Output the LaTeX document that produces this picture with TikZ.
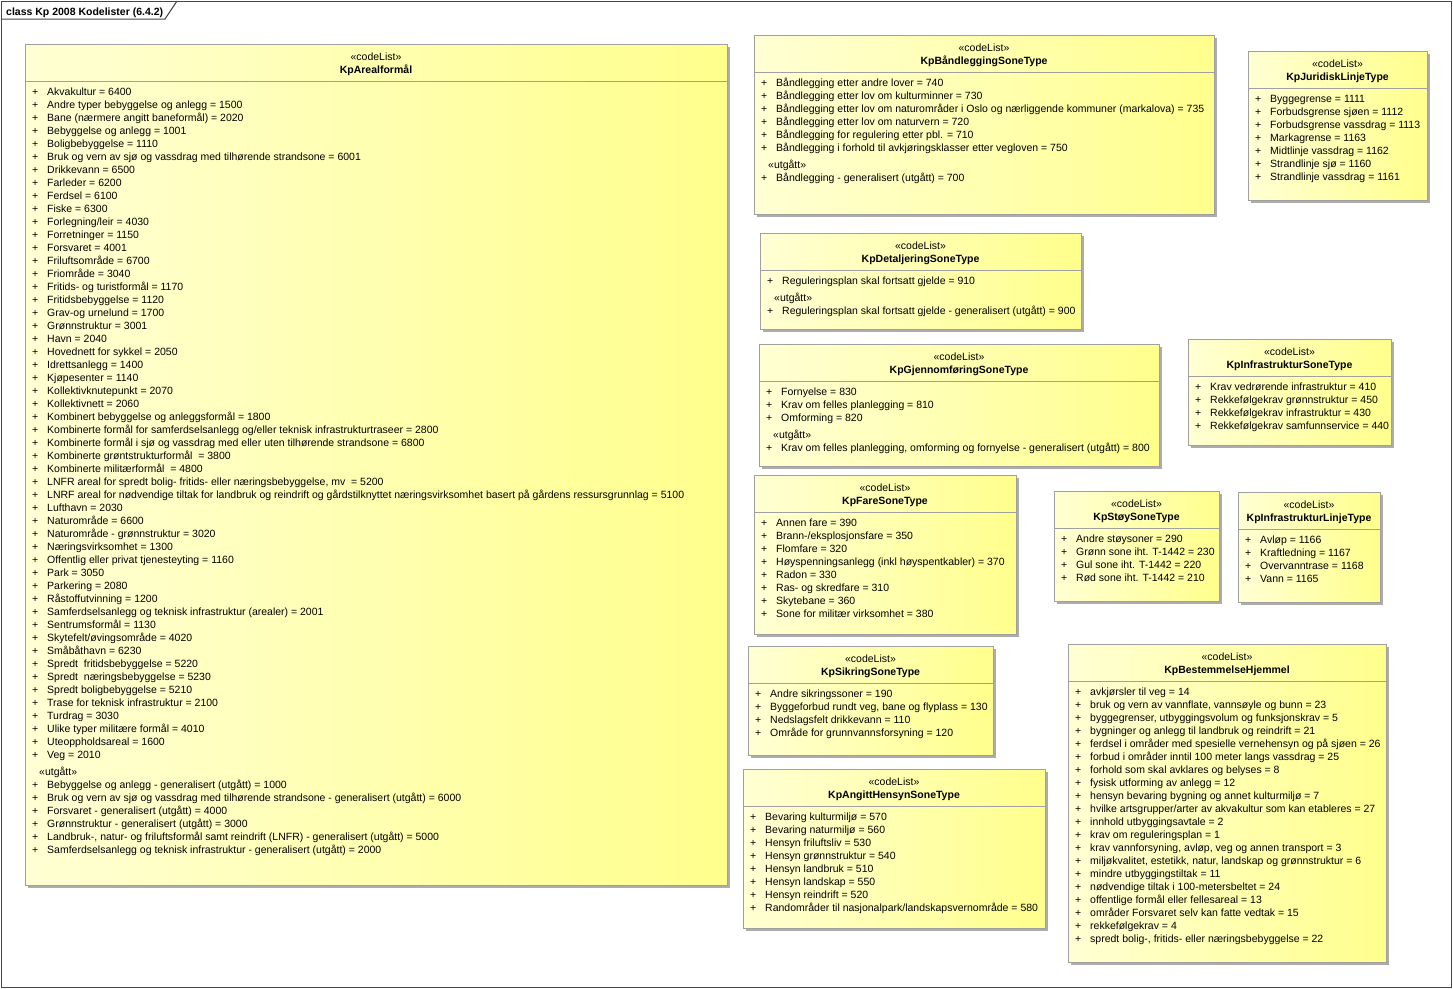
\documentclass[tikz,border=0pt]{standalone}
\usepackage{fontspec}
\setmainfont{Liberation Sans}
\definecolor{fillL}{RGB}{255,255,212}
\definecolor{fillR}{RGB}{255,255,140}
\definecolor{boxline}{RGB}{160,160,160}
\definecolor{shadowc}{RGB}{172,172,172}
\definecolor{framec}{RGB}{70,70,70}
\tikzset{
  boxfill/.style={left color=fillL, right color=fillR},
  boxborder/.style={draw=boxline, line width=1pt},
  boxshadow/.style={fill=shadowc},
  stereo/.style={anchor=base, inner sep=0pt, font=\fontsize{10.5}{13}\selectfont},
  clsname/.style={anchor=base, inner sep=0pt, font=\fontsize{10.5}{13}\selectfont\bfseries},
  attrs/.style={anchor=base west, inner sep=0pt, font=\fontsize{10.5}{13}\selectfont},
  frameline/.style={draw=framec, line width=1pt},
}
\newcommand\umlbox[6]{%
  \fill[boxshadow] (#2+3,#3+3) rectangle (#4+3,#5+3);
  \shade[boxfill] (#2,#3) rectangle (#4,#5);
  \draw[boxborder] (#2,#3) rectangle (#4,#5);
  \draw[boxborder] (#2,#3+37) -- (#4,#3+37);
  \node[stereo] (#1-st) at ({(#2+#4)/2},#3+16.5) {«codeList»};
  \node[clsname] (#1-nm) at ({(#2+#4)/2},#3+29.5) {#6};
}
\newcommand\umlattrs[4]{%
  \node[attrs] (#1-at) at (#2+7,#3+51.5) {\begin{tabular}[t]{@{}l@{}}#4\end{tabular}};
}
\newcommand\itm[1]{\makebox[15pt][l]{+}#1\\}
\newcommand\utg{\noalign{\vskip4pt}\hspace*{7pt}«utgått»\\}
\begin{document}
\begin{tikzpicture}[x=1pt,y=-1pt]
\useasboundingbox (0,0) rectangle (1453,988);
\fill[white] (0,0) rectangle (1453,988);
% frame
\draw[frameline] (1,1) rectangle (1451,987);
\draw[frameline] (1,19) -- (165,19) -- (177,1);
\node[anchor=base west, inner sep=0pt, font=\fontsize{10.5}{13}\selectfont\bfseries] (title) at (6,15) {class Kp 2008 Kodelister (6.4.2)};

% KpArealformål
\umlbox{A}{25}{44}{727}{885}{KpArealformål}
\umlattrs{A}{25}{44}{%
\itm{Akvakultur = 6400}
\itm{Andre typer bebyggelse og anlegg = 1500}
\itm{Bane (nærmere angitt baneformål) = 2020}
\itm{Bebyggelse og anlegg = 1001}
\itm{Boligbebyggelse = 1110}
\itm{Bruk og vern av sjø og vassdrag med tilhørende strandsone = 6001}
\itm{Drikkevann = 6500}
\itm{Farleder = 6200}
\itm{Ferdsel = 6100}
\itm{Fiske = 6300}
\itm{Forlegning/leir = 4030}
\itm{Forretninger = 1150}
\itm{Forsvaret = 4001}
\itm{Friluftsområde = 6700}
\itm{Friområde = 3040}
\itm{Fritids- og turistformål = 1170}
\itm{Fritidsbebyggelse = 1120}
\itm{Grav-og urnelund = 1700}
\itm{Grønnstruktur = 3001}
\itm{Havn = 2040}
\itm{Hovednett for sykkel = 2050}
\itm{Idrettsanlegg = 1400}
\itm{Kjøpesenter = 1140}
\itm{Kollektivknutepunkt = 2070}
\itm{Kollektivnett = 2060}
\itm{Kombinert bebyggelse og anleggsformål = 1800}
\itm{Kombinerte formål for samferdselsanlegg og/eller teknisk infrastrukturtraseer = 2800}
\itm{Kombinerte formål i sjø og vassdrag med eller uten tilhørende strandsone = 6800}
\itm{Kombinerte grøntstrukturformål\ \ = 3800}
\itm{Kombinerte militærformål\ \ = 4800}
\itm{LNFR areal for spredt bolig- fritids- eller næringsbebyggelse, mv\ \ = 5200}
\itm{LNRF areal for nødvendige tiltak for landbruk og reindrift og gårdstilknyttet næringsvirksomhet basert på gårdens ressursgrunnlag = 5100}
\itm{Lufthavn = 2030}
\itm{Naturområde = 6600}
\itm{Naturområde - grønnstruktur = 3020}
\itm{Næringsvirksomhet = 1300}
\itm{Offentlig eller privat tjenesteyting = 1160}
\itm{Park = 3050}
\itm{Parkering = 2080}
\itm{Råstoffutvinning = 1200}
\itm{Samferdselsanlegg og teknisk infrastruktur (arealer) = 2001}
\itm{Sentrumsformål = 1130}
\itm{Skytefelt/øvingsområde = 4020}
\itm{Småbåthavn = 6230}
\itm{Spredt\ \ fritidsbebyggelse = 5220}
\itm{Spredt\ \ næringsbebyggelse = 5230}
\itm{Spredt boligbebyggelse = 5210}
\itm{Trase for teknisk infrastruktur = 2100}
\itm{Turdrag = 3030}
\itm{Ulike typer militære formål = 4010}
\itm{Uteoppholdsareal = 1600}
\itm{Veg = 2010}
\utg
\itm{Bebyggelse og anlegg - generalisert (utgått) = 1000}
\itm{Bruk og vern av sjø og vassdrag med tilhørende strandsone - generalisert (utgått) = 6000}
\itm{Forsvaret - generalisert (utgått) = 4000}
\itm{Grønnstruktur - generalisert (utgått) = 3000}
\itm{Landbruk-, natur- og friluftsformål samt reindrift (LNFR) - generalisert (utgått) = 5000}
\itm{Samferdselsanlegg og teknisk infrastruktur - generalisert (utgått) = 2000}
}

% KpBåndleggingSoneType
\umlbox{B}{754}{35}{1214}{214}{KpBåndleggingSoneType}
\umlattrs{B}{754}{35}{%
\itm{Båndlegging etter andre lover = 740}
\itm{Båndlegging etter lov om kulturminner = 730}
\itm{Båndlegging etter lov om naturområder i Oslo og nærliggende kommuner (markalova) = 735}
\itm{Båndlegging etter lov om naturvern = 720}
\itm{Båndlegging for regulering etter pbl. = 710}
\itm{Båndlegging i forhold til avkjøringsklasser etter vegloven = 750}
\utg
\itm{Båndlegging - generalisert (utgått) = 700}
}

% KpJuridiskLinjeType
\umlbox{J}{1248}{51}{1427}{200}{KpJuridiskLinjeType}
\umlattrs{J}{1248}{51}{%
\itm{Byggegrense = 1111}
\itm{Forbudsgrense sjøen = 1112}
\itm{Forbudsgrense vassdrag = 1113}
\itm{Markagrense = 1163}
\itm{Midtlinje vassdrag = 1162}
\itm{Strandlinje sjø = 1160}
\itm{Strandlinje vassdrag = 1161}
}

% KpDetaljeringSoneType
\umlbox{D}{760}{233}{1081}{329}{KpDetaljeringSoneType}
\umlattrs{D}{760}{233}{%
\itm{Reguleringsplan skal fortsatt gjelde = 910}
\utg
\itm{Reguleringsplan skal fortsatt gjelde - generalisert (utgått) = 900}
}

% KpGjennomføringSoneType
\umlbox{G}{759}{344}{1159}{466}{KpGjennomføringSoneType}
\umlattrs{G}{759}{344}{%
\itm{Fornyelse = 830}
\itm{Krav om felles planlegging = 810}
\itm{Omforming = 820}
\utg
\itm{Krav om felles planlegging, omforming og fornyelse - generalisert (utgått) = 800}
}

% KpInfrastrukturSoneType
\umlbox{I}{1188}{339}{1391}{445}{KpInfrastrukturSoneType}
\umlattrs{I}{1188}{339}{%
\itm{Krav vedrørende infrastruktur = 410}
\itm{Rekkefølgekrav grønnstruktur = 450}
\itm{Rekkefølgekrav infrastruktur = 430}
\itm{Rekkefølgekrav samfunnservice = 440}
}

% KpFareSoneType
\umlbox{F}{754}{475}{1016}{634}{KpFareSoneType}
\umlattrs{F}{754}{475}{%
\itm{Annen fare = 390}
\itm{Brann-/eksplosjonsfare = 350}
\itm{Flomfare = 320}
\itm{Høyspenningsanlegg (inkl høyspentkabler) = 370}
\itm{Radon = 330}
\itm{Ras- og skredfare = 310}
\itm{Skytebane = 360}
\itm{Sone for militær virksomhet = 380}
}

% KpStøySoneType
\umlbox{S}{1054}{491}{1219}{601}{KpStøySoneType}
\umlattrs{S}{1054}{491}{%
\itm{Andre støysoner = 290}
\itm{Grønn sone iht. T-1442 = 230}
\itm{Gul sone iht. T-1442 = 220}
\itm{Rød sone iht. T-1442 = 210}
}

% KpInfrastrukturLinjeType
\umlbox{L}{1238}{492}{1380}{602}{KpInfrastrukturLinjeType}
\umlattrs{L}{1238}{492}{%
\itm{Avløp = 1166}
\itm{Kraftledning = 1167}
\itm{Overvanntrase = 1168}
\itm{Vann = 1165}
}

% KpSikringSoneType
\umlbox{K}{748}{646}{993}{755}{KpSikringSoneType}
\umlattrs{K}{748}{646}{%
\itm{Andre sikringssoner = 190}
\itm{Byggeforbud rundt veg, bane og flyplass = 130}
\itm{Nedslagsfelt drikkevann = 110}
\itm{Område for grunnvannsforsyning = 120}
}

% KpAngittHensynSoneType
\umlbox{H}{743}{769}{1045}{928}{KpAngittHensynSoneType}
\umlattrs{H}{743}{769}{%
\itm{Bevaring kulturmiljø = 570}
\itm{Bevaring naturmiljø = 560}
\itm{Hensyn friluftsliv = 530}
\itm{Hensyn grønnstruktur = 540}
\itm{Hensyn landbruk = 510}
\itm{Hensyn landskap = 550}
\itm{Hensyn reindrift = 520}
\itm{Randområder til nasjonalpark/landskapsvernområde = 580}
}

% KpBestemmelseHjemmel
\umlbox{BH}{1068}{644}{1386}{962}{KpBestemmelseHjemmel}
\umlattrs{BH}{1068}{644}{%
\itm{avkjørsler til veg = 14}
\itm{bruk og vern av vannflate, vannsøyle og bunn = 23}
\itm{byggegrenser, utbyggingsvolum og funksjonskrav = 5}
\itm{bygninger og anlegg til landbruk og reindrift = 21}
\itm{ferdsel i områder med spesielle vernehensyn og på sjøen = 26}
\itm{forbud i områder inntil 100 meter langs vassdrag = 25}
\itm{forhold som skal avklares og belyses = 8}
\itm{fysisk utforming av anlegg = 12}
\itm{hensyn bevaring bygning og annet kulturmiljø = 7}
\itm{hvilke artsgrupper/arter av akvakultur som kan etableres = 27}
\itm{innhold utbyggingsavtale = 2}
\itm{krav om reguleringsplan = 1}
\itm{krav vannforsyning, avløp, veg og annen transport = 3}
\itm{miljøkvalitet, estetikk, natur, landskap og grønnstruktur = 6}
\itm{mindre utbyggingstiltak = 11}
\itm{nødvendige tiltak i 100-metersbeltet = 24}
\itm{offentlige formål eller fellesareal = 13}
\itm{områder Forsvaret selv kan fatte vedtak = 15}
\itm{rekkefølgekrav = 4}
\itm{spredt bolig-, fritids- eller næringsbebyggelse = 22}
}
\end{tikzpicture}
\end{document}
